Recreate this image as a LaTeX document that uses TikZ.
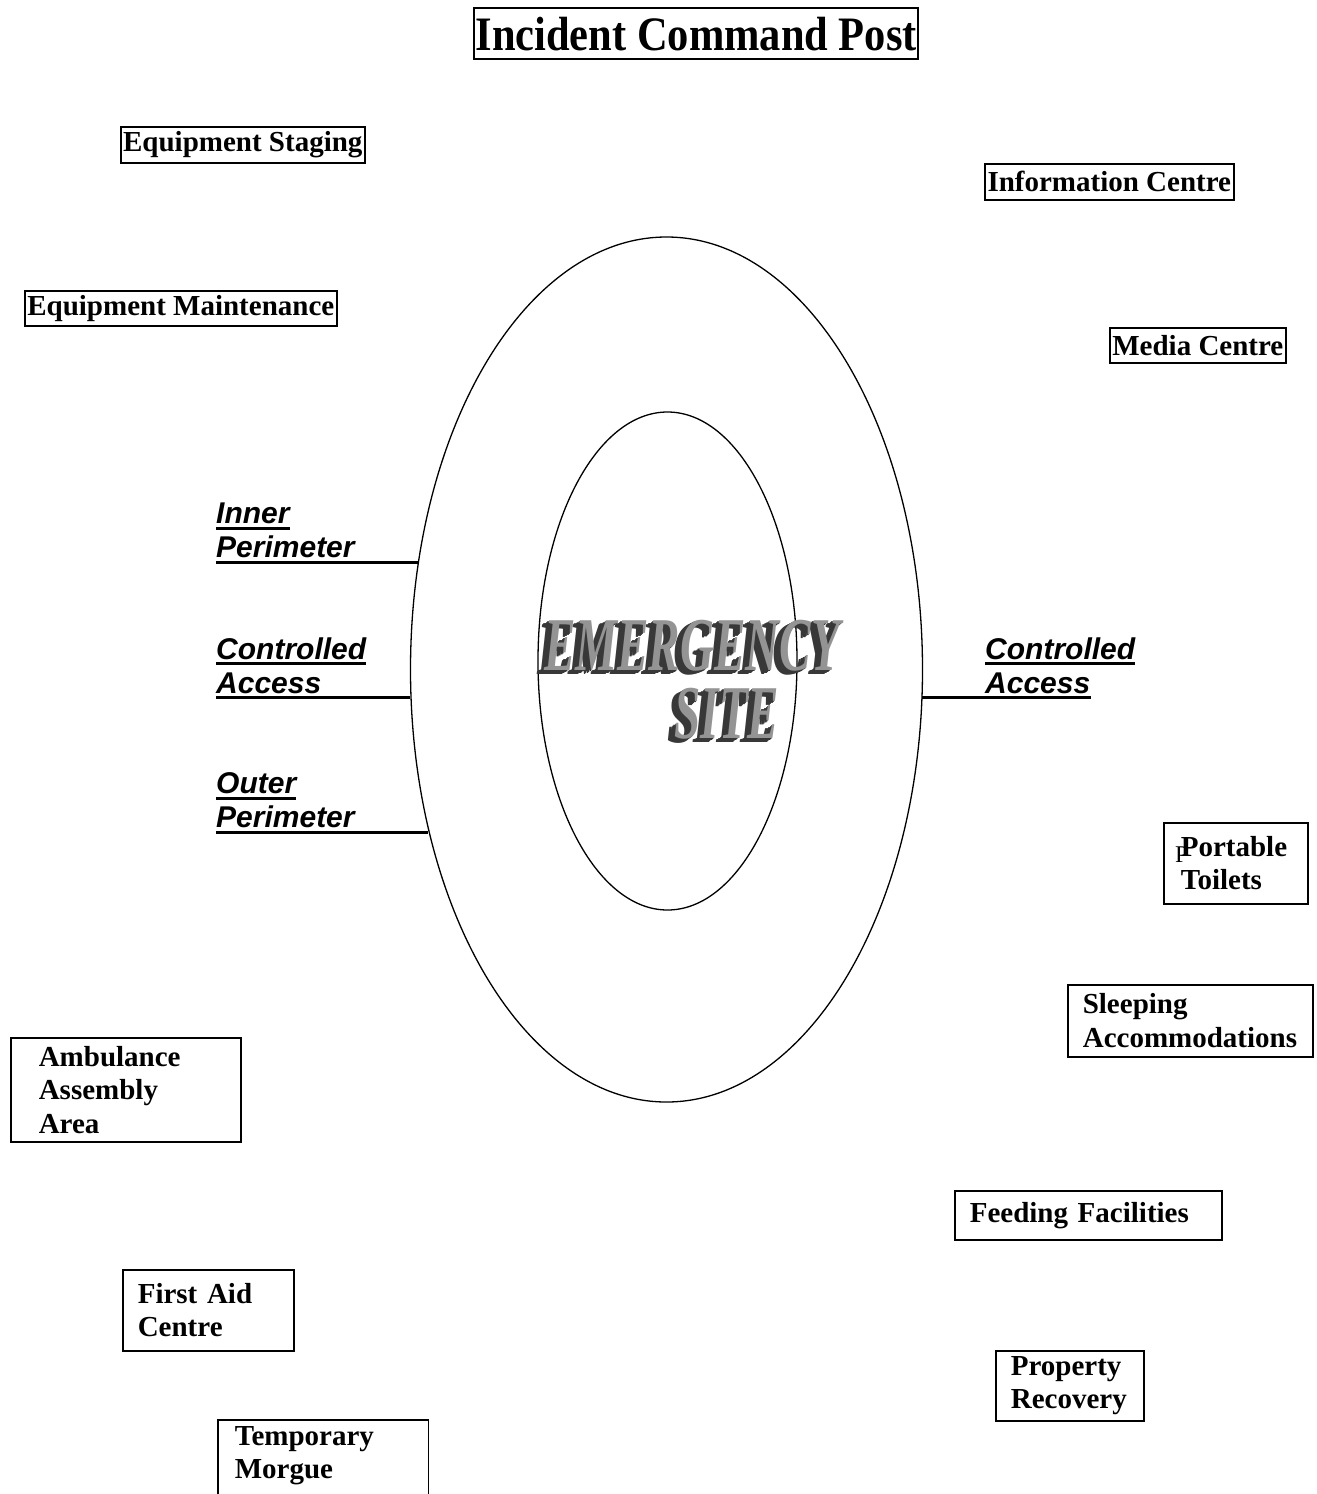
\documentclass[tikz,border=0pt]{standalone}
\usepackage{fontspec}
\setmainfont{Liberation Serif}
\newfontfamily\labelfont{Liberation Sans}
\usetikzlibrary{shapes.geometric,calc}
\hyphenpenalty=10000

% underline for the first word of a perimeter label
\newcommand{\ulword}[1]{\setbox0\hbox{#1}\rlap{\rule[-6pt]{\wd0}{3pt}}\box0}

\begin{document}
\begin{tikzpicture}[x=1pt,y=1pt,yscale=-1,xscale=1,
  site box/.style={draw, line width=1.6pt, anchor=north west, align=left, inner ysep=0pt,
    font=\fontsize{29}{33.5}\selectfont\bfseries},
  site tag/.style={draw, line width=1.6pt, anchor=north west, inner sep=0pt,
    font=\fontsize{29}{33.5}\selectfont\bfseries},
  perim label/.style={anchor=base west, inner sep=0pt,
    font=\labelfont\fontsize{30}{34}\selectfont\bfseries\itshape},
  site word/.style={inner sep=0pt, font=\fontsize{76}{80}\selectfont\bfseries\itshape},
  ring/.style={draw, ellipse, line width=1.3pt, inner sep=0pt}]
\useasboundingbox (0,0) rectangle (1317,1494);

%Title
\node [site tag, line width=2.4pt, minimum width=444pt, minimum height=51pt,
  font=\fontsize{48}{52}\selectfont\bfseries] (icp) at (473,7) {\scalebox{0.885}[1]{Incident Command Post}};

%Ellipses
\node [ring, minimum width=512pt, minimum height=865pt] (outer) at (666.5,669.5) {};
\node [ring, minimum width=259pt, minimum height=498pt] (inner) at (667.5,661) {};

%Emergency site (word art)
\coordinate (em1) at (692,646);
\coordinate (em2) at (727,714);
\foreach \d in {5,4,...,1}{
  \node [site word, text=black!78] (em1s\d) at ($(em1)+(-\d*1.4,\d*0.8)$) {\scalebox{0.62}[1]{EMERGENCY}};
  \node [site word, text=black!78] (em2s\d) at ($(em2)+(-\d*1.4,\d*0.8)$) {\scalebox{0.62}[1]{SITE}};
}
\node [site word, text=black!42] (emword1) at (em1) {\scalebox{0.62}[1]{EMERGENCY}};
\node [site word, text=black!42] (emword2) at (em2) {\scalebox{0.62}[1]{SITE}};

%Perimeter labels
\node [perim label] (ip1) at (216,523.5) {\ulword{Inner}};
\node [perim label] (ip2) at (216,557.5) {Perimeter};
\node [perim label] (ca1) at (216,659) {\ulword{Controlled}};
\node [perim label] (ca2) at (216,693) {Access};
\node [perim label] (op1) at (216,793.5) {\ulword{Outer}};
\node [perim label] (op2) at (216,827.5) {Perimeter};
\node [perim label] (ra1) at (985,659) {\ulword{Controlled}};
\node [perim label] (ra2) at (985,693) {Access};

%Label lines
\coordinate (ipl) at ($(ip2.base west)+(0,4.5)$);
\coordinate (cal) at ($(ca2.base west)+(0,4.5)$);
\coordinate (opl) at ($(op2.base west)+(0,4.5)$);
\coordinate (ral) at ($(ra2.base east)+(0,4.5)$);
\draw [line width=3pt] (ipl) -- (ipl -| outer.156.56);
\draw [line width=3pt] (cal) -- (cal -| outer.186.25);
\draw [line width=3pt] (opl) -- (opl -| outer.214.41);
\draw [line width=3pt] (ral -| outer.353.75) -- (ral);

%Left side boxes
\node [site tag, minimum width=244pt, minimum height=36pt] (staging) at (120,126) {Equipment Staging};
\node [site tag, minimum width=312pt, minimum height=35pt] (maint) at (24,290) {Equipment Maintenance};
\node [site box, inner xsep=28pt, text width=174pt, minimum height=104pt] (ambul) at (10,1037) {Ambulance\\Assembly\\Area};
\node [site box, inner xsep=15pt, text width=141pt, minimum height=81pt] (firstaid) at (122,1269) {First Aid\\Centre};
\node [site box, draw=none, inner xsep=16pt, text width=177pt, minimum height=70pt] (morgue) at (218,1420) {Temporary\\Morgue};
\draw [line width=1.6pt] ($(morgue.south west)+(0,40)$) -- (morgue.north west) -- (morgue.north east) -- ($(morgue.south east)+(0,40)$);

%Right side boxes
\node [site tag, minimum width=249pt, minimum height=36pt] (info) at (984,163) {Information Centre};
\node [site tag, minimum width=176pt, minimum height=35pt] (media) at (1109,327) {Media Centre};
\node [site box, inner xsep=17pt, text width=110pt, minimum height=81pt] (toilets) at (1163,822) {Portable\\Toilets};
\node [anchor=base west, inner sep=0pt, font=\fontsize{24}{28}\selectfont] (stray) at (1175,862) {P};
\node [site box, inner xsep=15pt, text width=215pt, minimum height=72pt] (sleeping) at (1067,984) {Sleeping\\Accommodations};
\node [site box, inner xsep=15pt, text width=237pt, minimum height=49pt] (feeding) at (954,1190) {Feeding Facilities};
\node [site box, inner xsep=15pt, text width=118pt, minimum height=70pt] (property) at (995,1350) {Property\\Recovery};

\end{tikzpicture}
\end{document}
